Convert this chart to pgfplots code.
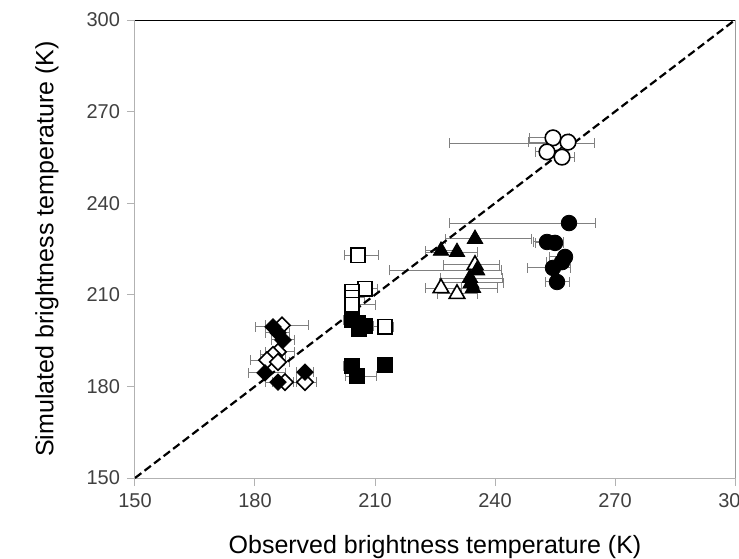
\documentclass[border=0pt]{standalone}
\usepackage{fontspec}
\setmainfont{Liberation Sans}
\usepackage{pgfplots}
\pgfplotsset{compat=1.18}
\usepackage{pgfplotstable}

\pgfplotstableread{
x y em ep
255.0 259.7 26.5 9.75
254.5 261.4 6 4
258.25 260.0 10 1.5
253.0 256.8 3 3
256.75 255.1 3 3
}\opencirc
\pgfplotstableread{
x y em ep
258.5 233.5 30 6.5
253.0 227.3 3.5 4
255.0 227.0 5 2
257.5 222.4 4 1.5
256.75 220.7 4 2
254.5 218.8 6.5 4.25
255.5 214.2 3 3
}\fillcirc
\pgfplotstableread{
x y em ep
235.0 219.8 8 6
226.5 212.2 4 5
230.5 210.3 5 5
}\opentri
\pgfplotstableread{
x y em ep
226.5 224.4 4 4
230.5 224.0 8 5
235.0 228.3 7.5 14
235.5 218.0 22 6
233.75 215.5 7.5 8
234.0 213.9 8 8
234.5 212.2 8 6
}\filltri
\pgfplotstableread{
x y em ep
205.75 223.0 3.5 5
212.5 199.5 4 2
207.5 212.0 3 3
204.25 211.0 2 4
204.25 209.0 2 3
204.25 206.7 2 5.75
}\opensq
\pgfplotstableread{
x y em ep
204.2 201.7 2 3
205.8 200.8 2 2
207.5 199.8 2 2
206.0 198.8 2 2
204.2 186.7 2 2
205.5 183.4 3 4.75
212.5 187.0 1 1
}\fillsq
\pgfplotstableread{
x y em ep
186.75 200.0 4 6.5
185.75 191.3 3 4
184.5 190.3 3 3
183.0 188.6 4 4
185.75 188.0 3 3
187.5 181.4 3 3
192.5 181.4 3 3
}\opendia
\pgfplotstableread{
x y em ep
184.5 199.5 4.5 3
185.75 197.5 3 3
187.0 195.2 3 3
182.5 184.4 4 5
185.75 181.4 3 3
192.5 184.7 2 2
}\filldia

\begin{document}
\begin{tikzpicture}
\begin{axis}[
  scale only axis, width=300pt, height=229pt,
  xmin=150, xmax=300, ymin=150, ymax=300,
  xtick={150,180,210,240,270,300}, ytick={150,180,210,240,270,300},
  xtick pos=bottom, ytick pos=left, tick align=outside,
  major tick length=4pt,
  every tick/.style={gray!60, line width=0.5pt},
  axis line style={gray!60, line width=0.5pt},
  ticklabel style={font=\fontsize{10}{12}\selectfont, text=black!75},
  /pgf/number format/assume math mode=true,
  xlabel={Observed brightness temperature (K)},
  ylabel={Simulated brightness temperature (K)},
  every axis x label/.style={at={([yshift=-34.5pt]axis description cs:0.5,0)}, anchor=center, font=\fontsize{12.5}{15}\selectfont},
  every axis y label/.style={at={([xshift=-44pt]axis description cs:0,0.5)}, anchor=center, rotate=90, font=\fontsize{12.5}{15}\selectfont},
  error bars/x dir=both, error bars/x explicit,
  error bars/error bar style={gray, line width=0.5pt},
  error bars/error mark options={gray, line width=0.5pt, mark size=2.5pt, rotate=90},
  only marks,
]
\addplot[mark=*, mark size=3.9pt, mark options={fill=white, draw=black, line width=0.8pt}]
  table[x=x, y=y, x error minus=em, x error plus=ep]{\opencirc};
\addplot[mark=*, mark size=3.9pt, mark options={fill=black, draw=black}]
  table[x=x, y=y, x error minus=em, x error plus=ep]{\fillcirc};
\addplot[mark=triangle*, mark size=4.5pt, mark options={fill=white, draw=black, line width=0.8pt}]
  table[x=x, y=y, x error minus=em, x error plus=ep]{\opentri};
\addplot[mark=triangle*, mark size=4.5pt, mark options={fill=black, draw=black}]
  table[x=x, y=y, x error minus=em, x error plus=ep]{\filltri};
\addplot[mark=square*, mark size=3.6pt, mark options={fill=white, draw=black, line width=0.8pt}]
  table[x=x, y=y, x error minus=em, x error plus=ep]{\opensq};
\addplot[mark=square*, mark size=3.6pt, mark options={fill=black, draw=black}]
  table[x=x, y=y, x error minus=em, x error plus=ep]{\fillsq};
\addplot[mark=square*, mark size=2.9pt, mark options={rotate=45, fill=white, draw=black, line width=0.8pt}]
  table[x=x, y=y, x error minus=em, x error plus=ep]{\opendia};
\addplot[mark=square*, mark size=2.9pt, mark options={rotate=45, fill=black, draw=black}]
  table[x=x, y=y, x error minus=em, x error plus=ep]{\filldia};
\addplot[no marks, sharp plot, black, line width=1.1pt, dash pattern=on 4pt off 2pt, error bars/x dir=none]
  coordinates {(150,150) (300,300)};
\draw[black, line width=0.5pt] (rel axis cs:0,1) -- (rel axis cs:1,1) -- (rel axis cs:1,0);
\end{axis}
\pgfresetboundingbox
\path[use as bounding box] ([xshift=-67.5pt,yshift=-40pt]current axis.south west) rectangle ([xshift=2pt,yshift=10pt]current axis.north east);
\end{tikzpicture}
\end{document}
